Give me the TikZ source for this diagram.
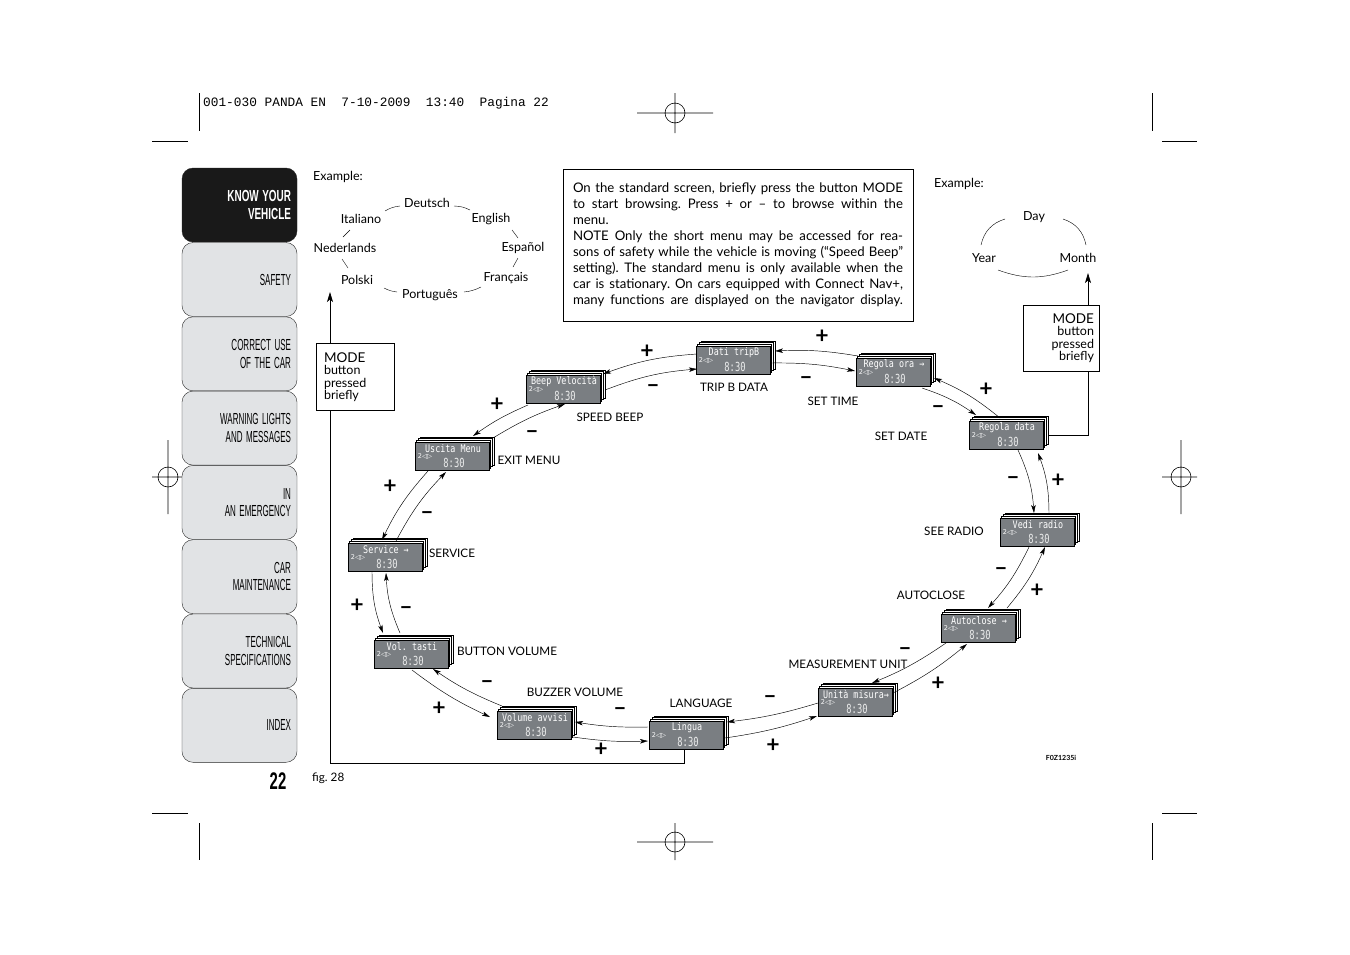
\documentclass[tikz,border=0pt]{standalone}
\usepackage{fontspec}
\setmainfont{Lato}
\newfontfamily\headfont{Liberation Mono}
\newfontfamily\tabfont{Liberation Sans}[FakeStretch=0.5]
\newfontfamily\tabboldfont{Liberation Sans}[FakeStretch=0.62]
\newfontfamily\lcdfont{DejaVu Sans Mono}[FakeStretch=0.8]
\newfontfamily\clockfont{DejaVu Sans Mono}[FakeStretch=0.7]
\newfontfamily\iconfont{DejaVu Sans}
\usetikzlibrary{arrows.meta,calc}
\frenchspacing

\definecolor{lcdgrey}{RGB}{122,126,130}
\definecolor{tabgrey}{RGB}{225,227,229}

\tikzset{
  tab/.style={draw=black!85, fill=tabgrey, rounded corners=11pt, minimum width=115pt,
    minimum height=74pt, text width=103pt, inner xsep=6pt, align=right,
    font=\tabfont\fontsize{16}{17.5}\selectfont, execute at begin node={\spaceskip=3.5pt}},
  lcd/.style={draw=black, line width=0.5pt, fill=lcdgrey, minimum width=74pt,
    minimum height=28pt, inner sep=0pt},
  lcdback/.style={lcd, fill=white},
  lcdtop/.style={text=white, font=\lcdfont\fontsize{10.5}{10.5}\selectfont, inner sep=0pt},
  lcdicon/.style={text=white, font=\iconfont\fontsize{6.5}{6.5}\selectfont, inner sep=0pt},
  lcdclock/.style={text=white!85!lcdgrey, font=\clockfont\fontsize{12.5}{12.5}\selectfont, inner sep=0pt},
  nav/.style={line width=0.45pt, -{Stealth[length=8pt,width=4.5pt,inset=2pt]}},
  sign/.style={font=\bfseries\fontsize{23}{23}\selectfont, inner sep=0pt},
  frame/.style={line width=0.8pt, -{Stealth[length=10pt,width=6pt,inset=2.5pt]}},
  modebox/.style={draw, line width=0.7pt, fill=white, font=\fontsize{12.5}{12.5}\selectfont,
    minimum height=67pt, inner ysep=0pt},
  lang/.style={font=\fontsize{12.5}{14}\selectfont, inner sep=1pt},
  menu/.style={font=\fontsize{11.7}{14}\selectfont, inner sep=0pt},
  crop/.style={line width=0.6pt},
}

% one display of the menu, a stack of screens
\newcommand\lcd[3]{%
  \foreach \k in {3,2,1}
    \node[lcdback, xshift=\k*1.7pt, yshift=\k*1.7pt] at (#2) {};
  \node[lcd] (#1) at (#2) {};
  \node[lcdtop] at ($(#1.north)+(1,6.5)$) {#3};
  \node[lcdicon, anchor=west] at ($(#1.west)+(3,0)$) {2◁▷};
  \node[lcdclock] at ($(#1.south)+(2,-7.5)$) {8:30};
}

\begin{document}
\begin{tikzpicture}[x=1pt, y=-1pt]
  \useasboundingbox (0,0) rectangle (1350,954);
  \fill[white] (0,0) rectangle (1350,954);

  % crop marks
  \draw[crop] (199,93) -- (199,131) (152,141) -- (188,141);
  \draw[crop] (1152,93) -- (1152,131) (1162,141) -- (1197,141);
  \draw[crop] (199,823) -- (199,860) (152,813) -- (188,813);
  \draw[crop] (1152,823) -- (1152,860) (1162,813) -- (1197,813);
  \draw[crop] (637,113) -- (713,113) (675,93) -- (675,133) (675,113) circle [radius=10];
  \draw[crop] (637,842) -- (713,842) (675,823) -- (675,860) (675,842) circle [radius=10];
  \draw[crop] (152,477) -- (188,477) (168,440) -- (168,514) (168,477) circle [radius=10];
  \draw[crop] (1162,477) -- (1197,477) (1181,440) -- (1181,514) (1181,477) circle [radius=10];
  \node[font=\headfont\fontsize{12.8}{13}\selectfont, anchor=west, inner sep=0pt] (head) at (203,103)
    {001-030 PANDA EN\ \ 7-10-2009\ \ 13:40\ \ Pagina 22};

  % side tabs
  \foreach \lbl [count=\i] in {SAFETY, CORRECT USE\\OF THE CAR, WARNING LIGHTS\\AND MESSAGES,
      IN\\AN EMERGENCY, CAR\\MAINTENANCE, TECHNICAL\\SPECIFICATIONS, INDEX}
    \node[tab] (tab\i) at (239.5, {243+74.3*(\i-1)+36.5}) {\lbl};
  \node[tab, fill=black!90, text=white, font=\tabboldfont\bfseries\fontsize{16}{17.5}\selectfont]
    (tab0) at (239.5,205) {KNOW YOUR\\VEHICLE};
  \node[font=\tabboldfont\bfseries\fontsize{24}{24}\selectfont, inner sep=0pt] (page) at (278,781) {22};
  \node[menu, anchor=west] (fig) at (312,778) {fig. 28};
  \node[font=\bfseries\fontsize{7}{7}\selectfont, inner sep=0pt] (code) at (1061,758) {F0Z1235i};

  % note
  \node[draw, line width=0.7pt, text width=330pt, inner xsep=10pt, minimum height=152pt,
    font=\fontsize{13.2}{16}\selectfont, align=justify] (note) at (738,245) {%
    \hyphenpenalty=10000
    On the standard screen, briefly press the button MODE\linebreak
    to start browsing. Press + or – to browse within the\linebreak
    menu.\par
    NOTE Only the short menu may be accessed for rea-\linebreak
    sons of safety while the vehicle is moving (“Speed Beep”\linebreak
    setting). The standard menu is only available when the\linebreak
    car is stationary. On cars equipped with Connect Nav+,\linebreak
    {\parfillskip=0pt many functions are displayed on the navigator display.\par}};

  % language example
  \node[lang, anchor=west] (exL) at (312,177) {Example:};
  \node[lang] (deutsch) at (427,203) {Deutsch};
  \node[lang] (italiano) at (361,219) {Italiano};
  \node[lang] (english) at (491,219) {English};
  \node[lang] (nederlands) at (345,248) {Nederlands};
  \node[lang] (espanol) at (523,248) {Español};
  \node[lang] (polski) at (357,280) {Polski};
  \node[lang] (francais) at (506,278) {Français};
  \node[lang] (portugues) at (430,295) {Português};
  \draw (385,211) to[bend left=12] (400,206);
  \draw (454,206) to[bend left=12] (470,210);
  \draw (343,237) -- (350,230);
  \draw (512,230) -- (518,238);
  \draw (342,259) -- (348,268);
  \draw (518,258) -- (513,267);
  \draw (384,288) to[bend right=10] (397,292);
  \draw (464,292) to[bend right=10] (481,287);

  % date example
  \node[lang, anchor=west] (exR) at (933,184) {Example:};
  \node[lang] (day) at (1034,217) {Day};
  \node[lang] (year) at (984,258) {Year};
  \node[lang] (month) at (1078,258) {Month};
  \draw ($(year)+(-3,-13)$) to[bend left=30] ($(day)+(-29,2)$);
  \draw ($(day)+(29,2)$) to[bend left=30] ($(month)+(8,-13)$);
  \draw ($(year)+(14,12)$) to[bend right=20] ($(month)+(-10,12)$);

  % displays
  \lcd{tripB}{733,360}{Dati tripB}
  \lcd{ora}{893,372}{Regola ora →}
  \lcd{data}{1006,435}{Regola data}
  \lcd{radio}{1037,532}{Vedi radio}
  \lcd{autoclose}{978,628}{Autoclose →}
  \lcd{misura}{855,702}{Unità misura→}
  \lcd{lingua}{686,735}{Lingua}
  \lcd{avvisi}{534,725}{Volume avvisi}
  \lcd{tasti}{411,654}{Vol. tasti}
  \lcd{service}{385,557}{Service →}
  \lcd{uscita}{452,456}{Uscita Menu}
  \lcd{beep}{563,389}{Beep Velocità}

  \node[menu] at (734,387) {TRIP B DATA};
  \node[menu] at (833,401) {SET TIME};
  \node[menu] at (901,436) {SET DATE};
  \node[menu] at (954,531) {SEE RADIO};
  \node[menu] at (931,595) {AUTOCLOSE};
  \node[menu] at (848,664) {MEASUREMENT UNIT};
  \node[menu] at (701,703) {LANGUAGE};
  \node[menu] at (575,692) {BUZZER VOLUME};
  \node[menu] at (507,651) {BUTTON VOLUME};
  \node[menu] at (452,553) {SERVICE};
  \node[menu] at (529,460) {EXIT MENU};
  \node[menu] at (610,417) {SPEED BEEP};

  % browsing arrows
  \draw[nav] ($(tripB)+(-36,-6)$) to[bend right=8] ($(beep)+(40,-15)$);
  \draw[nav] ($(beep)+(42,1)$) to[bend left=8] ($(tripB)+(-36,9)$);
  \draw[nav] ($(ora)+(-35,-16)$) to[bend right=6] ($(tripB)+(42,-9)$);
  \draw[nav] ($(tripB)+(37,3)$) to[bend left=6] ($(ora)+(-38,-1)$);
  \draw[nav] ($(data)+(-6,-17)$) to[bend right=8] ($(ora)+(41,6)$);
  \draw[nav] ($(ora)+(29,16)$) to[bend left=8] ($(data)+(-30,-20)$);
  \draw[nav] ($(data)+(12,15)$) to[bend left=10] ($(radio)+(-3,-19)$);
  \draw[nav] ($(radio)+(12,-19)$) to[bend right=10] ($(data)+(32,18)$);
  \draw[nav] ($(radio)+(-8,15)$) to[bend left=8] ($(autoclose)+(10,-20)$);
  \draw[nav] ($(autoclose)+(29,-20)$) to[bend right=8] ($(radio)+(8,15)$);
  \draw[nav] ($(autoclose)+(-32,15)$) to[bend left=6] ($(misura)+(17,-19)$);
  \draw[nav] ($(misura)+(38,-9)$) to[bend right=6] ($(autoclose)+(-11,16)$);
  \draw[nav] ($(misura)+(-37,1)$) to[bend left=5] ($(lingua)+(41,-13)$);
  \draw[nav] ($(lingua)+(39,3)$) to[bend right=5] ($(misura)+(-38,14)$);
  \draw[nav] ($(lingua)+(-38,-8)$) to[bend left=5] ($(avvisi)+(41,-3)$);
  \draw[nav] ($(avvisi)+(39,12)$) to[bend right=5] ($(lingua)+(-38,6)$);
  \draw[nav] ($(avvisi)+(-32,-19)$) to[bend left=6] ($(tasti)+(22,15)$);
  \draw[nav] ($(tasti)+(1,16)$) to[bend right=6] ($(avvisi)+(-44,-8)$);
  \draw[nav] ($(tasti)+(-11,-21)$) to[bend left=10] ($(service)+(1,16)$);
  \draw[nav] ($(service)+(-13,15)$) to[bend right=10] ($(tasti)+(-28,-21)$);
  \draw[nav] ($(service)+(11,-16)$) to[bend left=8] ($(uscita)+(-6,16)$);
  \draw[nav] ($(uscita)+(-24,15)$) to[bend right=8] ($(service)+(-3,-17)$);
  \draw[nav] ($(uscita)+(41,-18)$) to[bend left=6] ($(beep)+(2,15)$);
  \draw[nav] ($(beep)+(-35,16)$) to[bend right=6] ($(uscita)+(21,-20)$);

  % + and - signs
  \foreach \p in {(647,352), (822,337), (986,390), (1058,481), (1037,591), (938,684),
      (773,746), (601,750), (439,709), (357,606), (390,487), (497,405)}
    \node[sign] at \p {+};
  \foreach \p in {(653,389), (806,381), (938,410), (1013,481), (1001,572), (905,652),
      (770,700), (620,712), (487,685), (406,611), (427,516), (532,435)}
    \node[sign] at \p {–};

  % MODE button paths
  \coordinate (langin) at (330,292);
  \coordinate (datein) at (1088,273);
  \draw[frame] ($(lingua.south)+(-2,0)$) -- ++(0,14) -| (langin);
  \draw[frame] ($(data.east)+(5,0)$) -| (datein);
  \node[modebox, text width=62pt, inner xsep=8pt, align=left] (modeL) at (355,377)
    {{\fontsize{13.5}{13}\selectfont MODE}\\button\\pressed\\briefly};
  \node[modebox, text width=66pt, inner xsep=5pt, align=right, minimum height=66pt] (modeR) at (1061,338)
    {{\fontsize{13.5}{13}\selectfont MODE}\\button\\pressed\\briefly};
\end{tikzpicture}
\end{document}
